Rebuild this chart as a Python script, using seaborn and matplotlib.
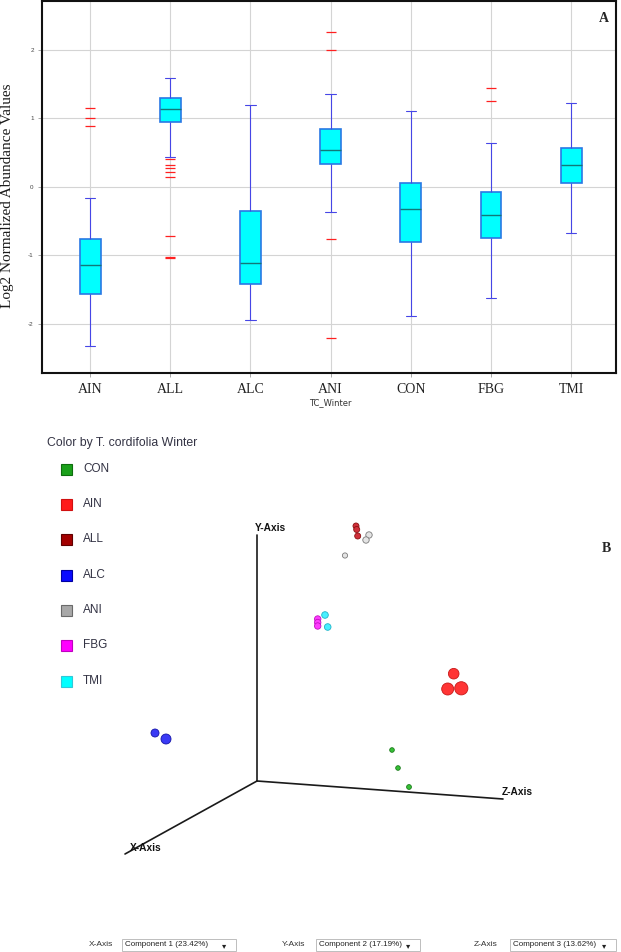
import numpy as np
import pandas as pd
import matplotlib
matplotlib.use("Agg")
import matplotlib.pyplot as plt
from matplotlib.patches import Rectangle
import seaborn as sns

sns.set_style("white")
plt.rcParams["font.family"] = ["Liberation Sans", "DejaVu Sans"]
plt.rcParams["axes.unicode_minus"] = False

# ---- panel A : box plot summary ----
groups = ["AIN", "ALL", "ALC", "ANI", "CON", "FBG", "TMI"]
lower_whisker = [-2.33, 0.436, -1.944, -0.373, -1.886, -1.629, -0.674]
q1 = [-1.57, 0.945, -1.425, 0.33, -0.81, -0.747, 0.058]
median = [-1.14, 1.135, -1.11, 0.538, -0.32, -0.412, 0.31]
q3 = [-0.76, 1.30, -0.35, 0.844, 0.053, -0.073, 0.567]
upper_whisker = [-0.165, 1.585, 1.19, 1.348, 1.105, 0.635, 1.222]

ain_outliers = [1.15, 1.0, 0.89]
all_outliers = [0.40, 0.315, 0.27, 0.22, 0.145, -0.727, -1.02, -1.04]
alc_outliers = []
ani_outliers = [2.264, 1.988, -0.766, -2.216]
con_outliers = []
fbg_outliers = [1.44, 1.25]
tmi_outliers = []

# ---- panel B : PCA score plot (projected view) ----
legend_groups = ["CON", "AIN", "ALL", "ALC", "ANI", "FBG", "TMI"]
legend_colors = ["#1aa01a", "#ff1a1a", "#a30000", "#0a0aff", "#a8a8a8", "#ff00ff", "#00ffff"]
legend_edges = ["#0d6d0d", "#d01010", "#600000", "#0000a0", "#6a6a6a", "#c000c0", "#30c8d8"]
point_colors = {"CON": "#36c036", "AIN": "#ff3535", "ALL": "#d0303a", "ALC": "#3a3af5",
                "ANI": "#e4e4e4", "FBG": "#ff3cff", "TMI": "#48f0ff"}
point_edges = {"CON": "#1a7a1a", "AIN": "#c81818", "ALL": "#8a1010", "ALC": "#1414a8",
               "ANI": "#7a7a7a", "FBG": "#c010c0", "TMI": "#20b4c8"}

pca_group = ["CON", "CON", "CON", "AIN", "AIN", "AIN", "ALL", "ALL", "ALL", "ALC", "ALC",
             "ANI", "ANI", "ANI", "FBG", "FBG", "FBG", "TMI", "TMI"]
pca_x = [392, 398, 409, 453.7, 447.7, 461.3, 356, 356.7, 357.7, 155, 166,
         369, 366, 345, 317.7, 317.7, 317.7, 325, 327.7]
pca_y = [750, 768, 787, 673.7, 689, 688.3, 526, 529.5, 536, 733, 739,
         535, 540, 555.5, 619, 622.5, 626, 615, 627]
pca_radius = [2.3, 2.3, 2.4, 5.3, 6.0, 6.6, 3.0, 3.0, 3.0, 4.0, 5.0,
              3.2, 3.2, 2.6, 3.2, 3.2, 3.2, 3.3, 3.3]

axis_names = ["X-Axis", "Y-Axis", "Z-Axis"]
component_labels = ["Component 1 (23.42%)", "Component 2 (17.19%)", "Component 3 (13.62%)"]

W, H = 621, 952
fig = plt.figure(figsize=(W / 100, H / 100), dpi=100)

# background axes in pixel units for panel B
bg = fig.add_axes([0, 0, 1, 1], zorder=-1)
bg.set_xlim(0, W)
bg.set_ylim(H, 0)
bg.axis("off")

# ---------------- panel A ----------------
ax = fig.add_axes([42 / W, 1 - 373 / H, (616 - 42) / W, (373 - 1) / H])

outliers = [ain_outliers, all_outliers, alc_outliers, ani_outliers,
            con_outliers, fbg_outliers, tmi_outliers]
rows = []
for g, lw, a, m, b, uw, out in zip(groups, lower_whisker, q1, median, q3,
                                   upper_whisker, outliers):
    # repeat the quartile values so the quartiles land on them exactly
    vals = [lw] + [a] * 20 + [m] * 20 + [b] * 20 + [uw] + list(out)
    rows += [(g, v) for v in vals]
box_df = pd.DataFrame(rows, columns=["group", "value"])

sns.boxplot(data=box_df, x="group", y="value", order=groups, ax=ax,
            width=0.26, color="#00ffff", saturation=1, linewidth=1.0,
            linecolor="#2a78e4",
            boxprops=dict(edgecolor="#2a78e4", linewidth=1.2),
            medianprops=dict(color="#127878", linewidth=1.0),
            whiskerprops=dict(color="#4646e6", linewidth=0.8),
            capprops=dict(color="#4646e6", linewidth=0.8),
            flierprops=dict(marker="_", markeredgecolor="#ff2020",
                            markersize=6.5, markeredgewidth=0.9))

ax.set_xlim(-0.6, 6.56)
ax.set_ylim(-2.72, 2.71)
ax.set_yticks([-2, -1, 0, 1, 2])
ax.set_xlabel("")
ax.set_ylabel("")
ax.grid(True, color="#d4d4d4", linewidth=0.8)
ax.set_axisbelow(True)
for s in ax.spines.values():
    s.set_color("#111111")
    s.set_linewidth(1.5)
ax.tick_params(axis="y", labelsize=4.5, labelcolor="#444444", color="#999999",
               length=3, width=0.6, pad=3, left=True)
ax.tick_params(axis="x", labelsize=10, labelcolor="#222222", color="#999999",
               length=3, width=0.6, pad=4, bottom=True)
for lbl in ax.get_xticklabels():
    lbl.set_fontfamily("Liberation Serif")

fig.text(7.5 / W, 1 - 196 / H, "Log2 Normalized Abundance Values", rotation=90,
         ha="center", va="center", fontsize=11, family="Liberation Serif",
         color="#1a1a1a")
fig.text(330 / W, 1 - 403 / H, "TC_Winter", ha="center", va="center",
         fontsize=6, family="DejaVu Sans", color="#333333")
fig.text(604 / W, 1 - 19 / H, "A", ha="center", va="center", fontsize=10,
         fontweight="bold", family="Liberation Serif")

# ---------------- panel B ----------------
fig.text(606 / W, 1 - 548 / H, "B", ha="center", va="center", fontsize=10,
         fontweight="bold", family="Liberation Serif")

bg.text(47, 443, "Color by T. cordifolia Winter", ha="left", va="center",
        fontsize=8.8, color="#333344")
legend_y = [469, 504, 539, 575, 610, 645, 681]
for g, c, e, yy in zip(legend_groups, legend_colors, legend_edges, legend_y):
    bg.add_patch(Rectangle((60.5, yy - 5.5), 11, 11, facecolor=c, edgecolor=e,
                           linewidth=0.8))
    bg.text(83, yy, g, ha="left", va="center", fontsize=8.5, color="#333344")

# 3D axis lines
origin = (257, 781)
bg.plot([256.5, 256.5], [535, origin[1]], color="#1a1a1a", lw=1.2)
bg.plot([origin[0], 125], [origin[1], 854], color="#1a1a1a", lw=1.2)
bg.plot([origin[0], 503], [origin[1], 799], color="#1a1a1a", lw=1.2)
bg.text(255, 528, "Y-Axis", ha="left", va="center", fontsize=7.3,
        fontweight="bold", color="#111111")
bg.text(502, 792, "Z-Axis", ha="left", va="center", fontsize=7.3,
        fontweight="bold", color="#111111")
bg.text(130, 848, "X-Axis", ha="left", va="center", fontsize=7.3,
        fontweight="bold", color="#111111")

pca_df = pd.DataFrame({"group": pca_group, "x": pca_x, "y": pca_y,
                       "r": pca_radius})
pca_df["s"] = (1.44 * pca_df["r"]) ** 2
for g in ["ALC", "CON", "ANI", "ALL", "FBG", "TMI", "AIN"]:
    sub = pca_df[pca_df["group"] == g]
    sns.scatterplot(data=sub, x="x", y="y", ax=bg, s=sub["s"].values,
                    color=point_colors[g], edgecolor=point_edges[g],
                    linewidth=0.6, legend=False, zorder=3)
bg.set_xlim(0, W)
bg.set_ylim(H, 0)
bg.set_xlabel("")
bg.set_ylabel("")

# axis selector controls
label_x = [113, 305, 497]
box_x = [122, 316, 510]
box_w = [114, 104, 106]
for name, comp, lx, bx, bw in zip(axis_names, component_labels, label_x, box_x, box_w):
    bg.text(lx, 945, name, ha="right", va="center", fontsize=6, color="#333333")
    bg.add_patch(Rectangle((bx, 939), bw, 12, facecolor="white",
                           edgecolor="#bdbdbd", linewidth=0.7))
    bg.text(bx + 3, 945, comp, ha="left", va="center", fontsize=5.8,
            color="#222222")
    bg.text(bx + bw - 12, 945.5, "\u25be", ha="center", va="center",
            fontsize=6, family="DejaVu Sans", color="#222222")

fig.savefig("out.png", dpi=100)
